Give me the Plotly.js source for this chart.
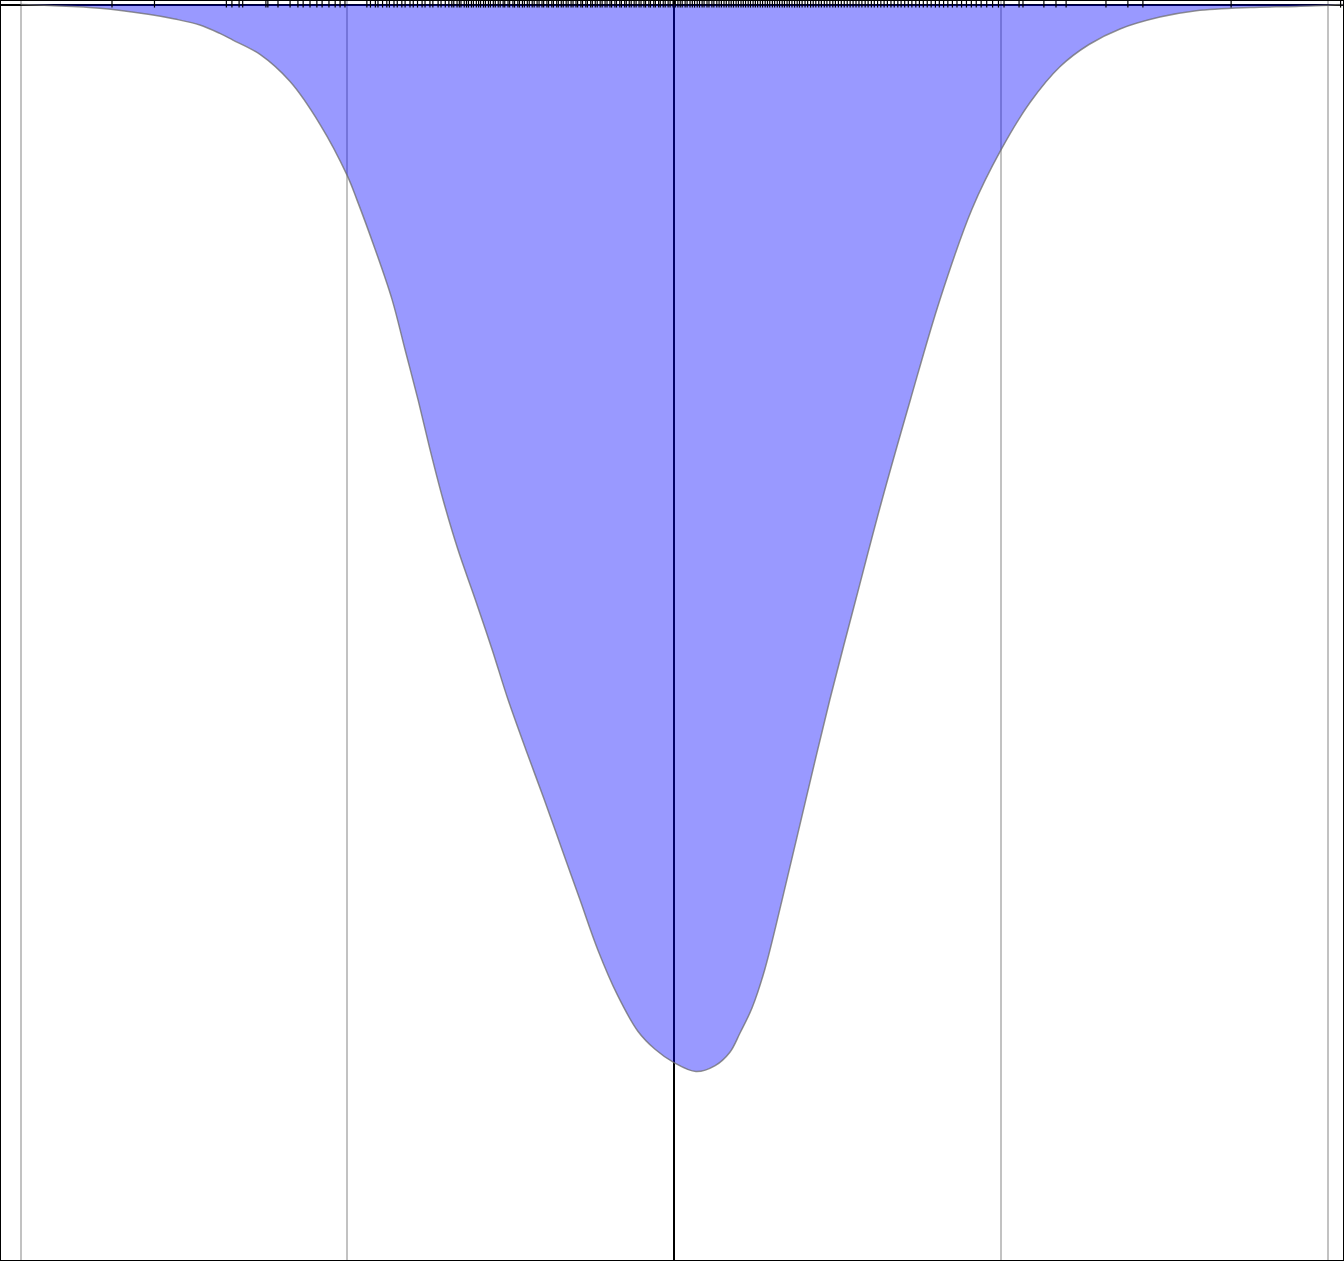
<!DOCTYPE html>
<html>
<head>
<meta charset="utf-8">
<script src="https://cdn.plot.ly/plotly-3.0.1.min.js"></script>
<style>
  html, body { margin: 0; padding: 0; background: #fff; }
  #plot { width: 1344px; height: 1261px; }
</style>
</head>
<body>
<div id="plot"></div>
<script>
// density curve (x value, density)
const densityX = [-2.00, -1.91, -1.757, -1.604, -1.528, -1.451, -1.39, -1.35, -1.267, -1.175, -1.083, -1.001,
    -0.97, -0.915, -0.863, -0.823, -0.783, -0.747, -0.707, -0.661, -0.609, -0.557,
    -0.508, -0.453, -0.398, -0.343, -0.288, -0.233, -0.174, -0.110, -0.058, 0,
    0.067, 0.126, 0.171, 0.202, 0.239, 0.278, 0.331, 0.404, 0.477, 0.557,
    0.637, 0.723, 0.814, 0.912, 1.001, 1.09, 1.181, 1.27, 1.365, 1.487,
    1.598, 1.763, 1.904, 2.05];
const densityY = [0, 0.0007, 0.0025, 0.0068, 0.0098, 0.0138, 0.0195, 0.024, 0.0337, 0.052, 0.081, 0.115,
    0.132, 0.165, 0.199, 0.233, 0.267, 0.300, 0.334, 0.368, 0.401, 0.435,
    0.469, 0.503, 0.536, 0.570, 0.604, 0.638, 0.668, 0.693, 0.705, 0.714,
    0.720, 0.716, 0.707, 0.694, 0.677, 0.651, 0.604, 0.536, 0.469, 0.401,
    0.334, 0.267, 0.199, 0.138, 0.098, 0.066, 0.042, 0.027, 0.0165, 0.0085,
    0.0042, 0.002, 0.0013, 0];

// rug: individual observations along the top
const rugX = [-1.72, -1.59, -1.37, -1.353, -1.331, -1.32, -1.249, -1.243, -1.212, -1.175,
    -1.151, -1.135, -1.114, -1.093, -1.077, -1.056, -1.037, -1.022, -1.007,
    -0.94, -0.929, -0.914, -0.906, -0.892, -0.879, -0.871, -0.857, -0.847, -0.833,
    -0.823, -0.808, -0.798, -0.785, -0.771, -0.762, -0.747, -0.738, -0.722, -0.713, -0.70,
    -0.689, -0.68, -0.674, -0.664, -0.657, -0.652, -0.642, -0.635, -0.629, -0.62,
    -0.614, -0.605, -0.598, -0.592, -0.583, -0.577, -0.568, -0.562, -0.553, -0.547,
    -0.538, -0.532, -0.523, -0.518, -0.508, -0.503, -0.493, -0.488, -0.478, -0.473,
    -0.464, -0.458, -0.449, -0.443, -0.434, -0.428, -0.419, -0.413, -0.404, -0.399,
    -0.389, -0.384, -0.374, -0.369, -0.359, -0.354, -0.345, -0.339, -0.33, -0.324,
    -0.315, -0.309, -0.3, -0.295, -0.285, -0.28, -0.27, -0.265, -0.255, -0.25,
    -0.241, -0.235, -0.226, -0.22, -0.211, -0.205, -0.196, -0.191, -0.181, -0.176,
    -0.166, -0.161, -0.151, -0.146, -0.137, -0.131, -0.122, -0.116, -0.107, -0.101,
    -0.092, -0.087, -0.077, -0.072, -0.062, -0.057, -0.047, -0.042, -0.033, -0.027,
    -0.018, -0.012, -0.003,
    0.004, 0.012, 0.019, 0.025, 0.034, 0.04, 0.049, 0.056, 0.063, 0.071,
    0.078, 0.086, 0.092, 0.101, 0.107, 0.116, 0.122, 0.131, 0.138, 0.145,
    0.153, 0.16, 0.168, 0.175, 0.182, 0.19, 0.197, 0.205, 0.212, 0.219,
    0.227, 0.234, 0.242, 0.249, 0.256, 0.264, 0.271, 0.279, 0.286, 0.293,
    0.301, 0.308, 0.316, 0.323, 0.331, 0.338, 0.346, 0.353, 0.361, 0.369,
    0.377, 0.384, 0.392, 0.401, 0.409, 0.418, 0.426, 0.434, 0.443, 0.451,
    0.46, 0.468, 0.477, 0.486, 0.494, 0.503, 0.512, 0.521, 0.53, 0.539,
    0.548, 0.557, 0.566, 0.575, 0.585, 0.594, 0.604, 0.613, 0.623, 0.633,
    0.643, 0.653, 0.664, 0.674, 0.685, 0.695, 0.706, 0.717, 0.728, 0.74,
    0.751, 0.763, 0.775, 0.787, 0.8, 0.812, 0.825, 0.838, 0.852, 0.866,
    0.88, 0.895, 0.91, 0.925, 0.94, 0.957, 0.975, 0.993, 1.01,
    1.056, 1.068, 1.132, 1.169, 1.2, 1.322, 1.389, 1.435, 1.705, 2.04];
const rugLevel = -0.0017;

const traces = [
    {
        x: densityX,
        y: densityY,
        type: 'scatter',
        mode: 'lines',
        line: { color: 'rgba(110,110,110,0.75)', width: 1.5, shape: 'spline', smoothing: 1 },
        fill: 'tozeroy',
        fillcolor: 'rgba(0,0,255,0.4)',
        hoverinfo: 'skip'
    },
    {
        x: rugX,
        y: rugX.map(() => rugLevel),
        type: 'scatter',
        mode: 'markers',
        cliponaxis: false,
        marker: { symbol: 'line-ns-open', size: 8, color: 'black', line: { color: 'black', width: 1.2 } },
        hoverinfo: 'skip'
    }
];

const layout = {
    width: 1344,
    height: 1261,
    margin: { l: 1, r: 1, t: 1, b: 1, pad: 0 },
    paper_bgcolor: 'white',
    plot_bgcolor: 'white',
    showlegend: false,
    xaxis: {
        range: [-2.0597, 2.0474],
        tick0: 0,
        dtick: 1,
        showgrid: true,
        gridcolor: '#c2c2c2',
        gridwidth: 2,
        zeroline: true,
        zerolinecolor: 'black',
        zerolinewidth: 2,
        showticklabels: false,
        ticks: '',
        showline: true,
        mirror: true,
        linecolor: 'black',
        linewidth: 1
    },
    yaxis: {
        range: [0.8472, -0.00236],
        showgrid: false,
        zeroline: true,
        zerolinecolor: 'black',
        zerolinewidth: 2,
        showticklabels: false,
        ticks: '',
        showline: true,
        mirror: true,
        linecolor: 'black',
        linewidth: 1
    }
};

Plotly.newPlot('plot', traces, layout, { staticPlot: true, displayModeBar: false });
</script>
</body>
</html>
